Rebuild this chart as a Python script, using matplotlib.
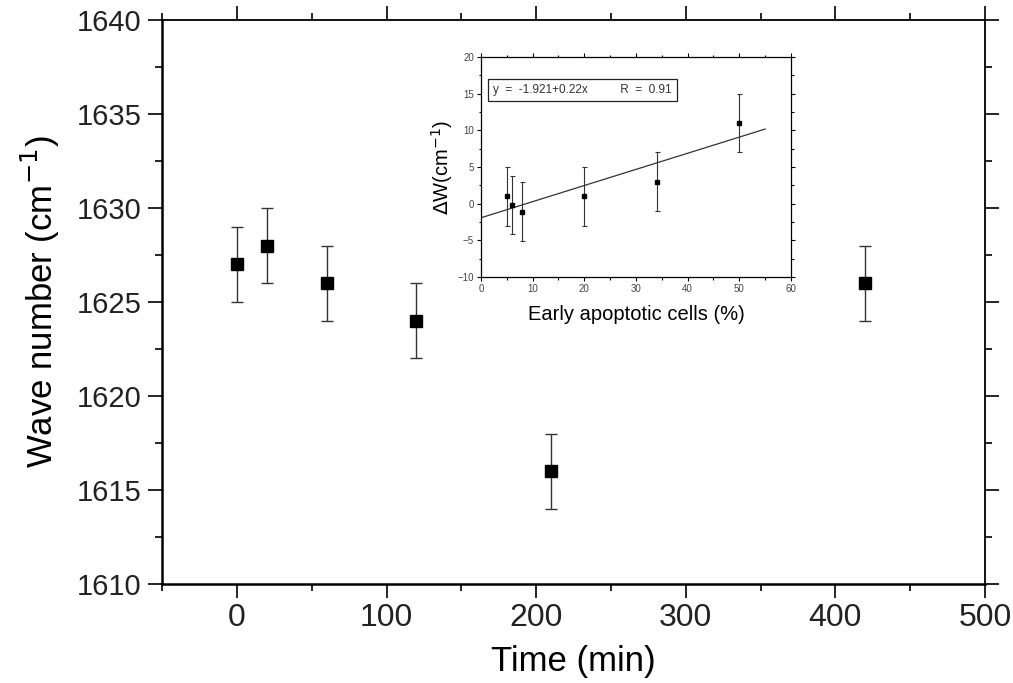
import matplotlib
matplotlib.use("Agg")
import matplotlib.pyplot as plt
from matplotlib.ticker import MultipleLocator
import numpy as np

plt.rcParams['font.family'] = ['Liberation Sans', 'DejaVu Sans']

# Main data
time_min = [0, 20, 60, 120, 210, 420]
wave_number = [1627, 1628, 1626, 1624, 1616, 1626]
wave_err = [2, 2, 2, 2, 2, 2]

# Inset data
apoptotic_pct = [5, 6, 8, 20, 34, 50]
delta_w = [1.0, -0.2, -1.1, 1.0, 3.0, 11.0]
delta_w_err = [4, 4, 4, 4, 4, 4]
fit_intercept = -1.921
fit_slope = 0.22
fit_range = [0, 55]

fig = plt.figure(figsize=(10.13, 6.83), dpi=100)
ax = fig.add_axes([0.160, 0.1449, 0.8124, 0.8258])

ax.errorbar(time_min, wave_number, yerr=wave_err, fmt='s', color='black',
            markersize=9, ecolor='#333333', elinewidth=1.0, capsize=4.3,
            capthick=1.0)
ax.set_xlim(-50, 500)
ax.set_ylim(1610, 1640)
ax.xaxis.set_major_locator(MultipleLocator(100))
ax.xaxis.set_minor_locator(MultipleLocator(50))
ax.yaxis.set_major_locator(MultipleLocator(5))
ax.yaxis.set_minor_locator(MultipleLocator(2.5))
ax.tick_params(which='both', direction='out', top=True, right=True,
               labeltop=False, labelright=False, width=1.2)
ax.tick_params(which='major', length=10)
ax.tick_params(axis='x', which='major', pad=4, labelsize=23)
ax.tick_params(axis='y', which='major', pad=5, labelsize=21)
ax.tick_params(which='minor', length=5)
for lab in ax.get_yticklabels() + ax.get_xticklabels():
    lab.set_color('#222222')
for side in ['left', 'bottom']:
    ax.spines[side].set_linewidth(1.8)
for side in ['top', 'right']:
    ax.spines[side].set_linewidth(1.3)
ax.set_xlabel('Time (min)', fontsize=25, labelpad=8)
ax.set_ylabel('Wave number (cm$^{-1}$)', fontsize=25, labelpad=10)

# Inset
ins = fig.add_axes([0.4748, 0.5944, 0.3060, 0.3221])
ins.errorbar(apoptotic_pct, delta_w, yerr=delta_w_err, fmt='s', color='black',
             markersize=3.2, ecolor='#333333', elinewidth=0.8, capsize=1.8,
             capthick=0.8)
xf = np.array(fit_range, dtype=float)
ins.plot(xf, fit_intercept + fit_slope * xf, color='#333333', lw=0.9)
ins.set_xlim(0, 60)
ins.set_ylim(-10, 20)
ins.xaxis.set_major_locator(MultipleLocator(10))
ins.xaxis.set_minor_locator(MultipleLocator(5))
ins.yaxis.set_major_locator(MultipleLocator(5))
ins.yaxis.set_minor_locator(MultipleLocator(2.5))
ins.tick_params(which='both', direction='out', top=True, right=True,
                labeltop=False, labelright=False, width=0.8,
                labelsize=7, labelcolor='#444444', pad=2)
ins.tick_params(which='major', length=3)
ins.tick_params(which='minor', length=1.8)
for sp in ins.spines.values():
    sp.set_linewidth(0.9)
ins.set_xlabel('Early apoptotic cells (%)', fontsize=14.5, labelpad=8)
ins.set_ylabel('$\\Delta$W(cm$^{-1}$)', fontsize=14.5, labelpad=2)
ins.text(0.039, 0.85, 'y  =  -1.921+0.22x          R  =  0.91',
         transform=ins.transAxes,
         fontsize=8.5, color='#333333', va='center', ha='left',
         bbox=dict(boxstyle='square,pad=0.45', facecolor='white',
                   edgecolor='#222222', linewidth=0.9))

fig.savefig('out.png', dpi=100)
